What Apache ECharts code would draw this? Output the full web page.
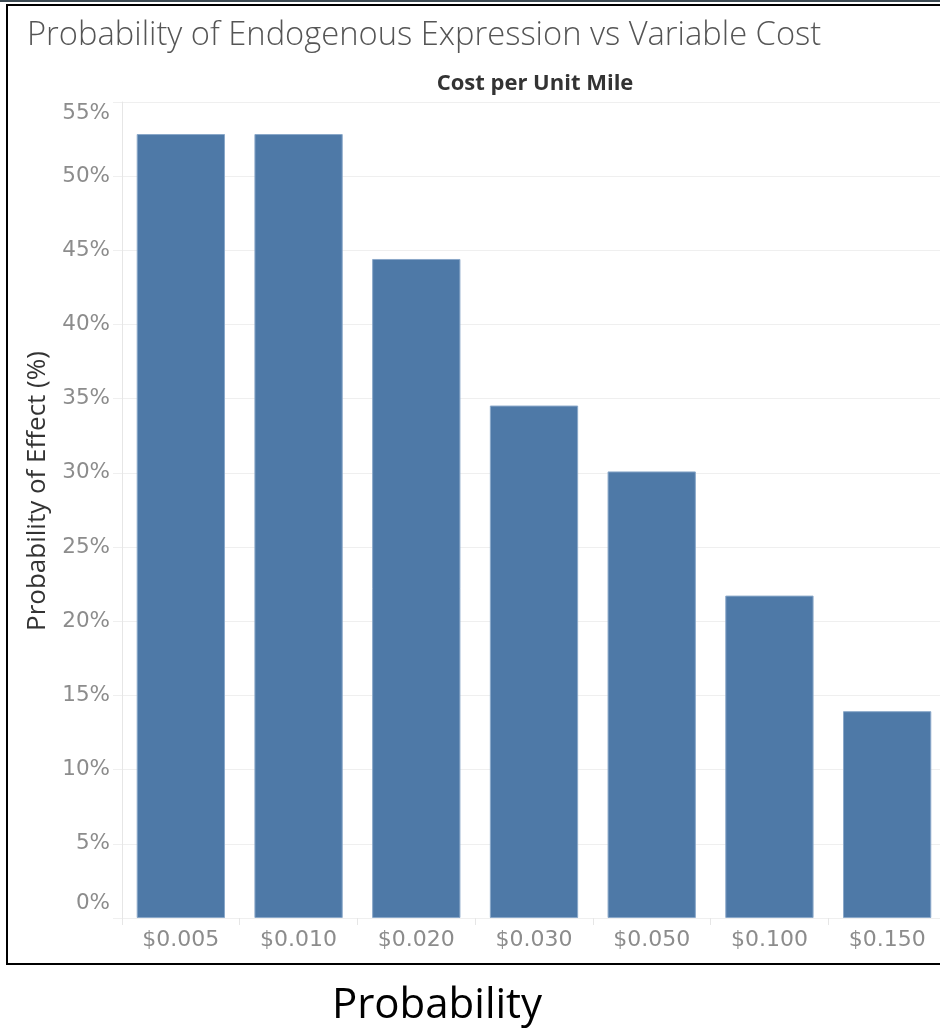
<!DOCTYPE html>
<html>
<head>
<meta charset="utf-8">
<script src="https://cdn.jsdelivr.net/npm/echarts@6/dist/echarts.min.js"></script>
<style>
html,body{margin:0;padding:0;background:#fff;overflow:hidden;width:940px;height:1029px;}
#chart{width:950px;height:1029px;}
</style>
</head>
<body>
<div id="chart"></div>
<script>
var categories = ['$0.005', '$0.010', '$0.020', '$0.030', '$0.050', '$0.100', '$0.150'];
var probability = [52.84, 52.84, 44.42, 34.54, 30.1, 21.73, 13.94];
var yTicks = [0, 5, 10, 15, 20, 25, 30, 35, 40, 45, 50, 55];

var chart = echarts.init(document.getElementById('chart'), null, {renderer: 'canvas'});
var gridColor = '#efefef';
chart.setOption({
  animation: false,
  backgroundColor: '#ffffff',
  title: [
    {
      text: 'Probability of Endogenous Expression vs Variable Cost',
      left: 22, top: 14,
      textStyle: {fontFamily: 'Open Sans', fontSize: 32.7, fontWeight: 300, color: '#555555'}
    },
    {
      text: 'Cost per Unit Mile',
      left: 530, top: 68, textAlign: 'center',
      textStyle: {fontFamily: 'Open Sans', fontSize: 22, fontWeight: 'bold', color: '#333333'}
    },
    {
      text: 'Probability',
      left: 432, top: 980, textAlign: 'center',
      textStyle: {fontFamily: 'Open Sans', fontSize: 42, fontWeight: 'normal', color: '#000000'}
    }
  ],
  graphic: [
    {type: 'rect', shape: {x: 0, y: 0, width: 950, height: 2}, style: {fill: '#3c4a52'}, z: 100},
    {type: 'rect', shape: {x: 7, y: 5, width: 960, height: 959}, style: {fill: 'none', stroke: '#000', lineWidth: 2}, z: 100},
    {type: 'text', x: 38, y: 491, rotation: Math.PI / 2,
      style: {text: 'Probability of Effect (%)', fontFamily: 'Open Sans', fontSize: 26, fill: '#333333', align: 'center', verticalAlign: 'middle'}}
  ],
  grid: {left: 122, top: 102, width: 824, height: 816, containLabel: false},
  xAxis: {
    type: 'category',
    data: categories,
    axisLine: {show: true, lineStyle: {color: gridColor, width: 1}},
    axisTick: {show: true, length: 7, alignWithLabel: false, lineStyle: {color: '#e6e6e6'}},
    axisLabel: {margin: 11, fontFamily: 'DejaVu Sans', fontSize: 22, color: '#8c8c8c'}
  },
  yAxis: {
    type: 'value',
    min: 0, max: 55, interval: 5,
    axisLine: {show: true, lineStyle: {color: '#e6e6e6'}},
    axisTick: {show: true, length: 9, lineStyle: {color: gridColor}},
    splitLine: {show: true, lineStyle: {color: gridColor, width: 1}},
    axisLabel: {
      margin: 12, fontFamily: 'DejaVu Sans', fontSize: 21.5, color: '#8c8c8c',
      verticalAlignMinLabel: 'bottom', verticalAlignMaxLabel: 'top',
      formatter: function (v) {
        if (yTicks.indexOf(v) < 0) return '';
        return v === 0 ? '{min|' + v + '%}' : v + '%';
      },
      rich: {min: {fontFamily: 'DejaVu Sans', fontSize: 21.5, color: '#8c8c8c', lineHeight: 30}}
    }
  },
  series: [{
    type: 'bar',
    data: probability,
    barCategoryGap: '25%',
    itemStyle: {color: '#4e79a7', borderColor: '#8aa8c9', borderWidth: 1}
  }]
});
</script>
</body>
</html>
